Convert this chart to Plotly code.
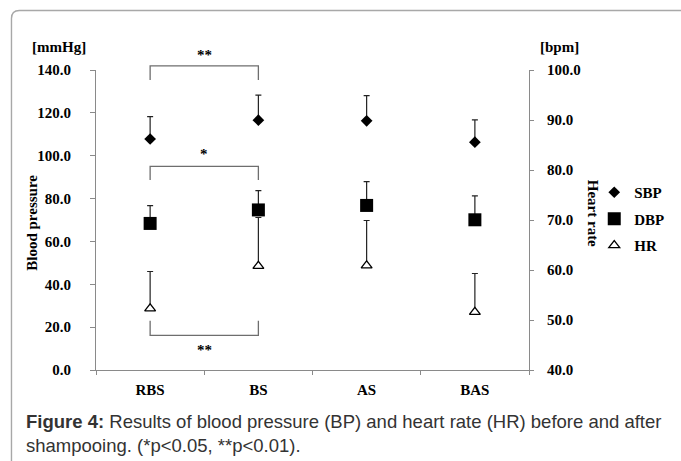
import plotly.graph_objects as go

# ---------------- data ----------------
categories = ["RBS", "BS", "AS", "BAS"]
sbp_mean = [107.8, 116.6, 116.3, 106.3]
sbp_sd = [10.4, 11.7, 11.7, 10.4]
dbp_mean = [68.4, 74.7, 76.8, 70.1]
dbp_sd = [8.3, 9.0, 11.1, 11.2]
hr_mean = [52.3, 60.8, 60.9, 51.6]
hr_sd = [7.4, 9.7, 9.0, 7.7]

bp_range = [0, 140]
hr_range = [40, 100]

# significance brackets: (from idx, to idx, bar level, end level, label, label level) in mmHg
brackets = [
    (0, 1, 141.9, 135.3, "**", 147.0),
    (0, 1, 95.0, 88.7, "*", 101.0),
    (0, 1, 16.2, 23.0, "**", 9.5),
]

# ---------------- layout geometry ----------------
W, H = 681, 461
ML, MR, MT, MB = 96, 147, 70, 91
PW, PH = W - ML - MR, H - MT - MB


def px(x):
    return (x - ML) / PW


def py(y):
    return (H - MB - y) / PH


def bp_paper(v):
    return (v - bp_range[0]) / (bp_range[1] - bp_range[0])


serif = dict(family="Liberation Serif", size=15, color="black", weight="bold")
axis_col = "#8a8a8a"

fig = go.Figure()
fig.add_trace(go.Scatter(
    x=categories, y=sbp_mean, name="SBP", mode="markers", legendgroup="a",
    marker=dict(symbol="diamond", size=9, color="black"),
    error_y=dict(type="data", symmetric=False, array=sbp_sd, arrayminus=[0] * 4,
                 color="#222222", thickness=1.2, width=3),
))
fig.add_trace(go.Scatter(
    x=categories, y=dbp_mean, name="DBP", mode="markers", legendgroup="b",
    marker=dict(symbol="square", size=13, color="black"),
    error_y=dict(type="data", symmetric=False, array=dbp_sd, arrayminus=[0] * 4,
                 color="#222222", thickness=1.2, width=3),
))
fig.add_trace(go.Scatter(
    x=categories, y=hr_mean, name="HR", mode="markers", yaxis="y2", legendgroup="c",
    marker=dict(symbol="triangle-up", size=9.5, color="white",
                line=dict(color="black", width=1.3)),
    error_y=dict(type="data", symmetric=False, array=hr_sd, arrayminus=[0] * 4,
                 color="#222222", thickness=1.2, width=3),
))

shapes = []
annotations = []
for i0, i1, lvl, end, lab, lab_lvl in brackets:
    shapes.append(dict(
        type="path", xref="x", yref="paper",
        path=f"M {i0},{bp_paper(end)} L {i0},{bp_paper(lvl)} L {i1},{bp_paper(lvl)} L {i1},{bp_paper(end)}",
        line=dict(color="#6e6e6e", width=1.3),
    ))
    annotations.append(dict(
        xref="x", yref="paper", x=(i0 + i1) / 2, y=bp_paper(lab_lvl), text=lab,
        showarrow=False, font=serif, xanchor="center", yanchor="middle",
    ))

# outer frame with rounded corner
r = 8
shapes.append(dict(
    type="path", xref="paper", yref="paper", layer="above",
    path=(f"M {px(10.5)},{py(470)} L {px(10.5)},{py(10.5 + r)} "
          f"Q {px(10.5)},{py(10.5)} {px(10.5 + r)},{py(10.5)} L {px(690)},{py(10.5)}"),
    line=dict(color="#a8a8a8", width=1.4),
))

annotations += [
    dict(xref="paper", yref="paper", x=px(59), y=py(47), text="[mmHg]",
         showarrow=False, font=serif, xanchor="center", yanchor="middle"),
    dict(xref="paper", yref="paper", x=px(565), y=py(47), text="[bpm]",
         showarrow=False, font=serif, xanchor="center", yanchor="middle"),
    dict(xref="paper", yref="paper", x=px(31), y=py(223), text="Blood pressure",
         showarrow=False, font=serif, textangle=-90, xanchor="center", yanchor="middle"),
    dict(xref="paper", yref="paper", x=px(599), y=py(213), text="Heart rate",
         showarrow=False, font=serif, textangle=90, xanchor="center", yanchor="middle"),
    dict(xref="paper", yref="paper", x=px(23), y=py(409),
         text=("<b>Figure 4:</b> Results of blood pressure (BP) and heart rate (HR) before and after"
               "<br>shampooing. (*p&lt;0.05, **p&lt;0.01)."),
         showarrow=False, align="left", xanchor="left", yanchor="top",
         font=dict(family="Liberation Sans", size=18.5, color="#333333")),
]

fig.update_layout(
    width=W, height=H,
    margin=dict(l=ML, r=MR, t=MT, b=MB, pad=0),
    paper_bgcolor="white", plot_bgcolor="white",
    showlegend=True,
    legend=dict(x=px(600), y=py(176), xanchor="left", yanchor="top",
                font=serif, tracegroupgap=4, bgcolor="rgba(0,0,0,0)"),
    xaxis=dict(type="category", categoryorder="array", categoryarray=categories,
               range=[-0.5, 3.5], showline=True, linecolor=axis_col, linewidth=1.2,
               ticks="outside", tickson="boundaries", ticklen=4, tickcolor=axis_col,
               showgrid=False, zeroline=False, tickfont=serif, ticklabelstandoff=6),
    yaxis=dict(range=bp_range, dtick=20, tick0=0, tickformat=".1f", showline=True,
               linecolor=axis_col, linewidth=1.2, ticks="outside", ticklen=5,
               tickcolor=axis_col, showgrid=False, zeroline=False, tickfont=serif,
               ticklabelstandoff=16),
    yaxis2=dict(range=hr_range, dtick=10, tick0=40, tickformat=".1f", overlaying="y",
                side="right", showline=True, linecolor=axis_col, linewidth=1.2,
                ticks="outside", ticklen=4, tickcolor=axis_col, showgrid=False,
                zeroline=False, tickfont=serif, ticklabelstandoff=10),
    shapes=shapes,
    annotations=annotations,
)

fig.write_html("out.html", config={"displayModeBar": False},
               post_script="document.body.style.margin='0';")
